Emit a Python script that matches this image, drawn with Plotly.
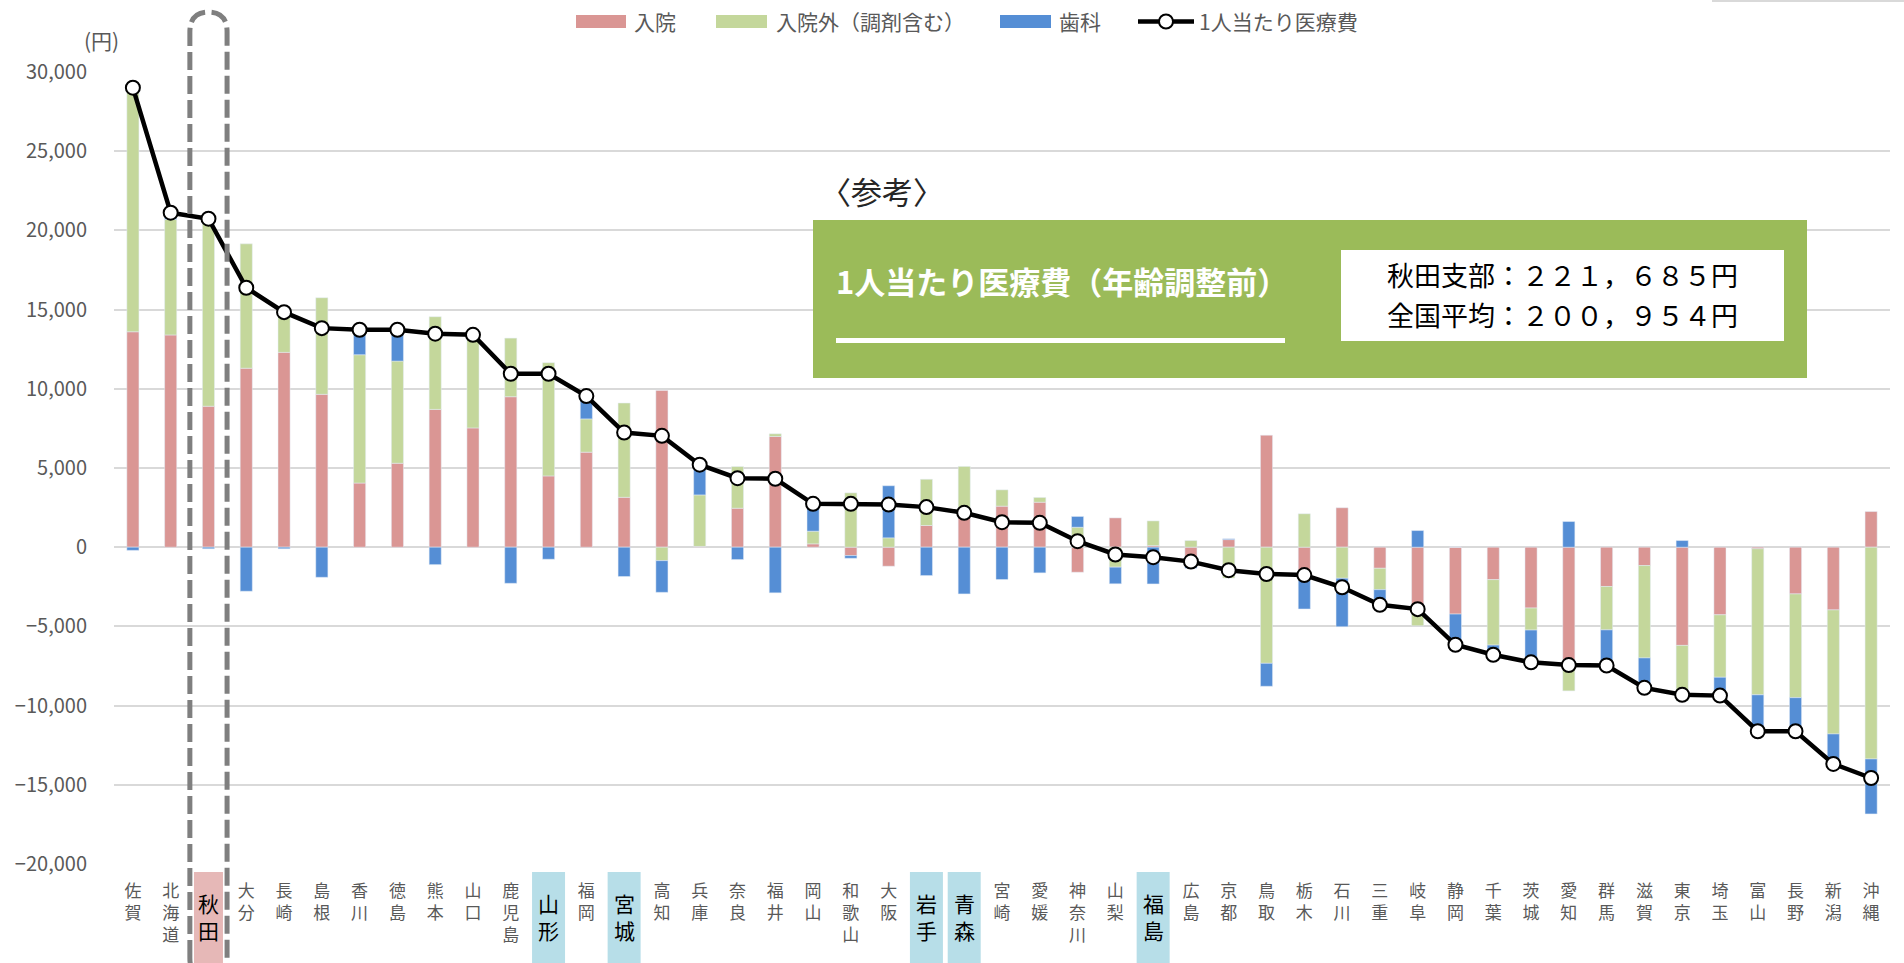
import plotly.graph_objects as go

# ---------------- data ----------------
prefs = ["佐賀", "北海道", "秋田", "大分", "長崎", "島根", "香川", "徳島", "熊本", "山口",
         "鹿児島", "山形", "福岡", "宮城", "高知", "兵庫", "奈良", "福井", "岡山", "和歌山",
         "大阪", "岩手", "青森", "宮崎", "愛媛", "神奈川", "山梨", "福島", "広島", "京都",
         "鳥取", "栃木", "石川", "三重", "岐阜", "静岡", "千葉", "茨城", "愛知", "群馬",
         "滋賀", "東京", "埼玉", "富山", "長野", "新潟", "沖縄"]

inpatient = [13600, 13400, 8900, 11300, 12300, 9650, 4050, 5300, 8700, 7530,
             9500, 4500, 6000, 3150, 9900, 50, 2460, 6990, 210, -530,
             -1200, 1370, 1900, 2590, 2840, -1580, 1850, 100, -800, 480,
             7070, -2100, 2490, -1330, -3800, -4220, -2050, -3840, -7170, -2480,
             -1160, -6200, -4270, -100, -2950, -3960, 2250]

outpatient = [15600, 7300, 11900, 7850, 2650, 6100, 8100, 6450, 5850, 5880,
              3700, 7150, 2100, 5950, -850, 3250, 2630, 170, 800, 3430,
              590, 2920, 3200, 1030, 300, 1260, -1260, 1560, 420, -1950,
              -7330, 2110, -1960, -1350, -1160, 0, -4130, -1390, -1900, -2740,
              -5830, -3500, -3940, -9220, -6550, -7830, -13370]

dental = [-200, 400, -100, -2780, -100, -1900, 1600, 2000, -1100, 0,
          -2280, -760, 1450, -1850, -2000, 1900, -780, -2880, 1730, -170,
          3290, -1790, -2950, -2040, -1620, 680, -1050, -2320, -530, 50,
          -1450, -1800, -3060, -950, 1050, -1940, -610, -2050, 1620, -2250,
          -1890, 420, -1160, -2300, -2130, -1890, -3470]

total = [29010, 21120, 20740, 16380, 14840, 13830, 13730, 13730, 13480, 13410,
         10950, 10950, 9540, 7240, 7030, 5210, 4360, 4320, 2740, 2740,
         2690, 2530, 2170, 1580, 1540, 380, -460, -630, -910, -1450,
         -1690, -1760, -2530, -3640, -3910, -6160, -6790, -7270, -7440, -7470,
         -8880, -9320, -9370, -11620, -11620, -13680, -14570]

series_names = ["入院", "入院外（調剤含む）", "歯科", "1人当たり医療費"]
highlight_pink = ["秋田"]
highlight_blue = ["山形", "宮城", "岩手", "青森", "福島"]
y_ticks = [-20000, -15000, -10000, -5000, 0, 5000, 10000, 15000, 20000, 25000, 30000]

note_head = "〈参考〉"
note_title = "1人当たり医療費（年齢調整前）"
note_lines = ["秋田支部：２２１，６８５円", "全国平均：２００，９５４円"]

# ---------------- style ----------------
W, H = 1904, 963
ML, MR, MT, MB = 114, 14, 72, 99
PW = W - ML - MR
PH = H - MT - MB
FONT = "Noto Sans CJK JP, Noto Sans, sans-serif"
GRAY = "#595959"
C_IN, C_OUT, C_DEN = "#DA9694", "#C4D79B", "#558ED5"


def px(x):
    return (x - ML) / PW


def py(y):
    return (H - MB - y) / PH


def is_hl(name):
    return name in highlight_pink or name in highlight_blue


def vlabel(name):
    return "<br>".join(list(name))


fig = go.Figure()
fig.add_bar(x=prefs, y=inpatient, name=series_names[0], marker_color=C_IN)
fig.add_bar(x=prefs, y=outpatient, name=series_names[1], marker_color=C_OUT)
fig.add_bar(x=prefs, y=dental, name=series_names[2], marker_color=C_DEN)
fig.add_scatter(x=prefs, y=total, name=series_names[3], mode="lines+markers",
                line=dict(color="black", width=4.5),
                marker=dict(size=14, color="white", line=dict(color="black", width=2)))

shapes = []
annotations = []


def cat_px(i):
    return ML + (i + 0.5) * PW / len(prefs)


# highlighted label boxes + larger black labels
for i, p in enumerate(prefs):
    if p in highlight_pink:
        hw, col = 14.5, "#E6B8B7"
    elif p in highlight_blue:
        hw, col = 16.5, "#B7DEE8"
    else:
        continue
    c = cat_px(i)
    shapes.append(dict(type="rect", xref="paper", yref="paper", layer="below",
                       x0=px(c - hw), x1=px(c + hw), y0=py(H + 5), y1=py(872),
                       fillcolor=col, line=dict(width=0)))
    annotations.append(dict(xref="x", yref="paper", x=p, y=py(916), text=vlabel(p),
                            showarrow=False, xanchor="center", yanchor="middle",
                            font=dict(family=FONT, size=21, color="#000000")))

# dashed rounded outline around 秋田
ia = prefs.index("秋田")
ca = cat_px(ia)
x0, x1, xm = px(ca - 18.6), px(ca + 18.6), px(ca)
top, bot = py(12), py(978)
ry = 20 / PH
path = (f"M {x0},{bot + ry} L {x0},{top - ry} Q {x0},{top} {xm},{top} "
        f"Q {x1},{top} {x1},{top - ry} L {x1},{bot + ry} Q {x1},{bot} {xm},{bot} "
        f"Q {x0},{bot} {x0},{bot + ry} Z")
shapes.append(dict(type="path", xref="paper", yref="paper", layer="above", path=path,
                   line=dict(color="#7F7F7F", width=5, dash="18px,6px")))

# reference note box
shapes.append(dict(type="rect", xref="paper", yref="paper", layer="above",
                   x0=px(813), x1=px(1807), y0=py(378), y1=py(220),
                   fillcolor="#9BBB59", line=dict(width=0)))
shapes.append(dict(type="line", xref="paper", yref="paper", layer="above",
                   x0=px(836), x1=px(1285), y0=py(340.5), y1=py(340.5),
                   line=dict(color="white", width=5)))
shapes.append(dict(type="rect", xref="paper", yref="paper", layer="above",
                   x0=px(1341), x1=px(1784), y0=py(341), y1=py(250),
                   fillcolor="white", line=dict(width=0)))
annotations.append(dict(xref="paper", yref="paper", x=px(818), y=py(190), text=note_head,
                        showarrow=False, xanchor="left", yanchor="middle",
                        font=dict(family=FONT, size=31, color="#262626")))
annotations.append(dict(xref="paper", yref="paper", x=px(834), y=py(280), text="<b>%s</b>" % note_title,
                        showarrow=False, xanchor="left", yanchor="middle",
                        font=dict(family=FONT, size=31, color="white")))
for k, line_txt in enumerate(note_lines):
    annotations.append(dict(xref="paper", yref="paper", x=px(1562), y=py(274 + 40 * k), text=line_txt,
                            showarrow=False, xanchor="center", yanchor="middle",
                            font=dict(family=FONT, size=27, color="black")))

# unit label
annotations.append(dict(xref="paper", yref="paper", x=px(101), y=py(40), text="(円)",
                        showarrow=False, xanchor="center", yanchor="middle",
                        font=dict(family=FONT, size=21, color=GRAY)))

# manual legend
leg_y = py(21.5)
sw_h = 13 / PH
for (xa, xb, xt, col, name) in [(576, 626, 632, C_IN, series_names[0]),
                                (716, 767, 774, C_OUT, series_names[1]),
                                (1000, 1051, 1057, C_DEN, series_names[2])]:
    shapes.append(dict(type="rect", xref="paper", yref="paper", layer="above",
                       x0=px(xa), x1=px(xb), y0=leg_y - sw_h / 2, y1=leg_y + sw_h / 2,
                       fillcolor=col, line=dict(width=0)))
    annotations.append(dict(xref="paper", yref="paper", x=px(xt), y=leg_y, text=name,
                            showarrow=False, xanchor="left", yanchor="middle",
                            font=dict(family=FONT, size=21, color=GRAY)))
shapes.append(dict(type="line", xref="paper", yref="paper", layer="above",
                   x0=px(1138), x1=px(1194), y0=leg_y, y1=leg_y,
                   line=dict(color="black", width=4.5)))
r = 7
shapes.append(dict(type="circle", xref="paper", yref="paper", layer="above",
                   x0=px(1166 - r), x1=px(1166 + r), y0=leg_y - r / PH, y1=leg_y + r / PH,
                   fillcolor="white", line=dict(color="black", width=2)))
annotations.append(dict(xref="paper", yref="paper", x=px(1197), y=leg_y, text=series_names[3],
                        showarrow=False, xanchor="left", yanchor="middle",
                        font=dict(family=FONT, size=21, color=GRAY)))

# faint line at top right
shapes.append(dict(type="line", xref="paper", yref="paper", layer="above",
                   x0=px(1712), x1=px(W), y0=py(1), y1=py(1),
                   line=dict(color="#D9D9D9", width=2)))

fig.update_layout(
    width=W, height=H,
    margin=dict(l=ML, r=MR, t=MT, b=MB, pad=0),
    paper_bgcolor="white", plot_bgcolor="white",
    barmode="relative", bargap=0.68,
    showlegend=False,
    font=dict(family=FONT, color=GRAY),
    shapes=shapes, annotations=annotations,
    xaxis=dict(type="category", tickvals=prefs,
               ticktext=[" " if is_hl(p) else vlabel(p) for p in prefs],
               range=[-0.5, len(prefs) - 0.5], showgrid=False, zeroline=False, showline=False,
               ticks="", tickangle=0, ticklabelstandoff=15,
               tickfont=dict(family=FONT, size=17, color=GRAY)),
    yaxis=dict(range=[-20000, 30000], tickvals=y_ticks, tickformat=",", showgrid=True,
               gridcolor="#D9D9D9", gridwidth=1.5, zeroline=True, zerolinecolor="#D9D9D9",
               zerolinewidth=1.5, showline=False, ticks="", ticklabelstandoff=26,
               tickfont=dict(family=FONT, size=20, color=GRAY)),
)

fig.write_html("out.html", config=dict(displayModeBar=False),
               post_script="document.body.style.margin='0';document.body.style.overflow='hidden';")
